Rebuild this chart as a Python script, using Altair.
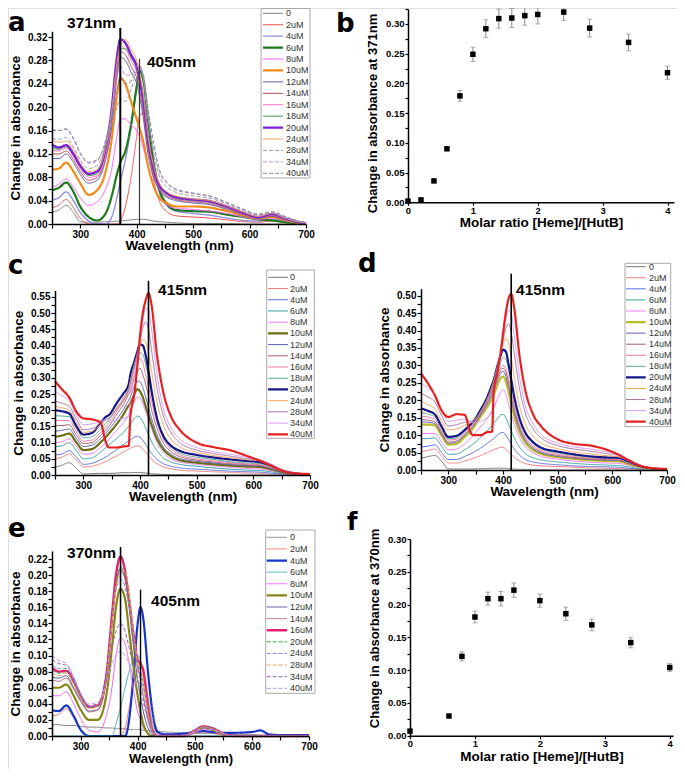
import altair as alt
import pandas as pd

W, H = 669, 761          # drawing area (page is 685x777 with 8px margin)
FONT = "Liberation Sans"
LETTER_FONT = "DejaVu Sans"

CONC15 = ["0", "2uM", "4uM", "6uM", "8uM", "10uM", "12uM", "14uM", "16uM",
          "18uM", "20uM", "24uM", "28uM", "34uM", "40uM"]
CONC_E = ["0", "2uM", "4uM", "6uM", "8uM", "10uM", "12uM", "14uM", "16uM",
          "20uM", "24uM", "28uM", "34uM", "40uM"]

# ---------------- panel a (wavelength grid + series) ----------------
WL_A = [250, 262, 275, 288, 300, 315, 330, 345, 355, 365, 371, 380, 390, 400, 405,
        412, 420, 430, 440, 455, 470, 500, 530, 560, 590, 615, 640, 665, 700]
a_0 = [0.020, 0.024, 0.032, 0.020, 0.004, 0.003, 0.003, 0.004, 0.004, 0.005, 0.005, 0.006, 0.007, 0.008, 0.008,
       0.008, 0.007, 0.005, 0.004, 0.003, 0.002, 0.001, 0.001, 0.001, 0.000, 0.000, 0.000, 0.000, 0.000]
a_2 = [0.028, 0.032, 0.042, 0.028, 0.010, 0.000, 0.000, 0.000, 0.000, 0.000, 0.005, 0.030, 0.080, 0.150, 0.185,
       0.190, 0.140, 0.075, 0.040, 0.020, 0.014, 0.012, 0.010, 0.007, 0.004, 0.003, 0.005, 0.002, 0.000]
a_4 = [0.041, 0.045, 0.055, 0.040, 0.020, 0.005, 0.000, 0.000, 0.010, 0.045, 0.072, 0.110, 0.165, 0.235, 0.270,
       0.250, 0.180, 0.100, 0.055, 0.030, 0.022, 0.018, 0.015, 0.010, 0.006, 0.005, 0.008, 0.004, 0.000]
a_6 = [0.058, 0.062, 0.071, 0.055, 0.030, 0.012, 0.006, 0.018, 0.045, 0.085, 0.105, 0.125, 0.170, 0.235, 0.262,
       0.245, 0.180, 0.105, 0.060, 0.033, 0.024, 0.022, 0.021, 0.016, 0.012, 0.008, 0.006, 0.003, 0.000]
a_8 = [0.063, 0.068, 0.077, 0.063, 0.045, 0.032, 0.038, 0.060, 0.090, 0.150, 0.180, 0.180, 0.170, 0.160, 0.150,
       0.130, 0.100, 0.065, 0.045, 0.032, 0.027, 0.025, 0.022, 0.018, 0.012, 0.008, 0.010, 0.005, 0.000]
a_10 = [0.093, 0.095, 0.105, 0.090, 0.070, 0.050, 0.058, 0.090, 0.140, 0.220, 0.250, 0.240, 0.210, 0.180, 0.165,
        0.140, 0.100, 0.065, 0.045, 0.035, 0.030, 0.030, 0.028, 0.022, 0.015, 0.010, 0.012, 0.006, 0.000]
a_12 = [0.112, 0.112, 0.120, 0.105, 0.085, 0.070, 0.075, 0.110, 0.160, 0.250, 0.285, 0.280, 0.260, 0.240, 0.220,
        0.180, 0.120, 0.080, 0.058, 0.045, 0.040, 0.036, 0.033, 0.025, 0.016, 0.010, 0.013, 0.006, 0.000]
a_14 = [0.120, 0.120, 0.125, 0.110, 0.090, 0.075, 0.080, 0.115, 0.170, 0.260, 0.295, 0.290, 0.270, 0.250, 0.230,
        0.190, 0.130, 0.085, 0.060, 0.047, 0.042, 0.038, 0.035, 0.026, 0.017, 0.011, 0.014, 0.007, 0.000]
a_16 = [0.126, 0.125, 0.130, 0.115, 0.095, 0.080, 0.083, 0.120, 0.175, 0.270, 0.305, 0.300, 0.280, 0.260, 0.240,
        0.200, 0.135, 0.088, 0.062, 0.048, 0.043, 0.039, 0.036, 0.027, 0.017, 0.011, 0.015, 0.007, 0.000]
a_18 = [0.130, 0.128, 0.132, 0.118, 0.098, 0.083, 0.086, 0.125, 0.180, 0.275, 0.300, 0.300, 0.285, 0.265, 0.245,
        0.205, 0.140, 0.090, 0.064, 0.050, 0.044, 0.040, 0.037, 0.028, 0.018, 0.012, 0.016, 0.008, 0.000]
a_20 = [0.136, 0.131, 0.135, 0.120, 0.100, 0.086, 0.090, 0.130, 0.190, 0.285, 0.316, 0.310, 0.290, 0.270, 0.250,
        0.210, 0.145, 0.095, 0.067, 0.052, 0.046, 0.042, 0.039, 0.030, 0.019, 0.012, 0.017, 0.009, 0.001]
a_24 = [0.143, 0.140, 0.142, 0.127, 0.105, 0.090, 0.093, 0.130, 0.185, 0.275, 0.305, 0.316, 0.300, 0.280, 0.260,
        0.220, 0.150, 0.100, 0.070, 0.054, 0.048, 0.043, 0.040, 0.031, 0.020, 0.013, 0.018, 0.009, 0.001]
a_28 = [0.146, 0.145, 0.148, 0.132, 0.110, 0.095, 0.100, 0.135, 0.170, 0.200, 0.215, 0.210, 0.230, 0.260, 0.265,
        0.245, 0.180, 0.120, 0.082, 0.062, 0.054, 0.048, 0.044, 0.034, 0.022, 0.015, 0.019, 0.010, 0.001]
a_34 = [0.163, 0.160, 0.162, 0.145, 0.120, 0.104, 0.108, 0.145, 0.190, 0.250, 0.270, 0.255, 0.255, 0.270, 0.272,
        0.250, 0.190, 0.130, 0.090, 0.068, 0.058, 0.052, 0.047, 0.036, 0.024, 0.016, 0.020, 0.011, 0.001]
a_40 = [0.160, 0.160, 0.163, 0.147, 0.122, 0.106, 0.110, 0.140, 0.180, 0.230, 0.250, 0.240, 0.245, 0.262, 0.265,
        0.255, 0.200, 0.140, 0.095, 0.070, 0.060, 0.053, 0.048, 0.037, 0.025, 0.017, 0.021, 0.012, 0.001]
A_SERIES = [a_0, a_2, a_4, a_6, a_8, a_10, a_12, a_14, a_16, a_18, a_20, a_24, a_28, a_34, a_40]
A_COLORS = ["#808080", "#f05050", "#9090e0", "#1b7a1b", "#ff5cff", "#f08a1a", "#5b5ba8", "#b04858",
            "#ff70c8", "#3c9c3c", "#7b1fd8", "#f5a455", "#a0a0a0", "#b48ee8", "#8c8c8c"]
A_WIDTHS = [1, 1, 1.4, 2.2, 1, 2.2, 1, 1, 1, 1, 2.4, 1, 1, 1, 1]
A_DASHED = [0] * 12 + [1, 1, 1]

# ---------------- panels c and d (shared wavelength grid) ----------------
WL_CD = [250, 262, 275, 288, 300, 315, 330, 340, 345, 360, 370, 380, 383, 390, 395, 400, 405,
         410, 415, 420, 430, 440, 455, 470, 500, 530, 560, 590, 610, 630, 650, 670, 700]
c_0 = [0.024, 0.030, 0.038, 0.020, 0.003, 0.004, 0.005, 0.005, 0.005, 0.006, 0.007, 0.007, 0.007, 0.008, 0.008, 0.008, 0.007,
       0.006, 0.005, 0.004, 0.003, 0.002, 0.001, 0.001, 0, 0, 0, 0, 0, 0, 0, 0, 0]
c_2 = [0.050, 0.055, 0.065, 0.045, 0.025, 0.027, 0.035, 0.042, 0.047, 0.060, 0.070, 0.080, 0.083, 0.088, 0.090, 0.088, 0.080,
       0.070, 0.060, 0.050, 0.035, 0.026, 0.019, 0.015, 0.012, 0.010, 0.008, 0.006, 0.005, 0.003, 0.002, 0.001, 0.000]
c_4 = [0.062, 0.065, 0.075, 0.055, 0.033, 0.036, 0.047, 0.056, 0.062, 0.080, 0.093, 0.105, 0.108, 0.117, 0.120, 0.117, 0.107,
       0.094, 0.080, 0.068, 0.048, 0.036, 0.027, 0.022, 0.018, 0.015, 0.012, 0.010, 0.009, 0.006, 0.003, 0.002, 0.000]
c_6 = [0.088, 0.090, 0.100, 0.075, 0.050, 0.053, 0.070, 0.085, 0.092, 0.115, 0.130, 0.150, 0.155, 0.175, 0.182, 0.178, 0.165,
       0.145, 0.125, 0.105, 0.075, 0.055, 0.040, 0.033, 0.027, 0.022, 0.018, 0.015, 0.014, 0.010, 0.005, 0.002, 0.000]
c_8 = [0.100, 0.103, 0.112, 0.088, 0.064, 0.066, 0.085, 0.100, 0.110, 0.140, 0.160, 0.185, 0.192, 0.225, 0.240, 0.238, 0.220,
       0.195, 0.170, 0.145, 0.100, 0.072, 0.050, 0.040, 0.033, 0.028, 0.024, 0.020, 0.019, 0.014, 0.007, 0.003, 0.001]
c_10 = [0.118, 0.122, 0.128, 0.100, 0.077, 0.080, 0.100, 0.118, 0.128, 0.160, 0.185, 0.215, 0.222, 0.250, 0.265, 0.258, 0.240,
        0.212, 0.185, 0.158, 0.112, 0.082, 0.058, 0.046, 0.038, 0.033, 0.029, 0.026, 0.025, 0.018, 0.009, 0.004, 0.001]
c_12 = [0.135, 0.138, 0.142, 0.112, 0.088, 0.092, 0.112, 0.130, 0.140, 0.175, 0.200, 0.232, 0.242, 0.275, 0.290, 0.288, 0.270,
        0.240, 0.210, 0.178, 0.125, 0.090, 0.064, 0.051, 0.042, 0.037, 0.032, 0.029, 0.028, 0.020, 0.010, 0.004, 0.001]
c_14 = [0.152, 0.153, 0.155, 0.122, 0.097, 0.100, 0.122, 0.140, 0.150, 0.190, 0.215, 0.250, 0.260, 0.300, 0.320, 0.330, 0.310,
        0.280, 0.245, 0.205, 0.145, 0.103, 0.072, 0.057, 0.046, 0.040, 0.035, 0.032, 0.030, 0.022, 0.011, 0.005, 0.001]
c_16 = [0.168, 0.168, 0.168, 0.133, 0.105, 0.108, 0.130, 0.150, 0.160, 0.200, 0.225, 0.260, 0.272, 0.315, 0.340, 0.360, 0.345,
        0.310, 0.275, 0.232, 0.163, 0.116, 0.080, 0.063, 0.050, 0.044, 0.038, 0.034, 0.032, 0.024, 0.012, 0.005, 0.002]
c_18 = [0.183, 0.182, 0.180, 0.143, 0.115, 0.118, 0.140, 0.160, 0.170, 0.210, 0.235, 0.270, 0.285, 0.330, 0.355, 0.378, 0.372,
        0.340, 0.300, 0.255, 0.180, 0.128, 0.088, 0.068, 0.055, 0.048, 0.041, 0.037, 0.035, 0.026, 0.013, 0.006, 0.002]
c_20 = [0.200, 0.197, 0.190, 0.150, 0.125, 0.130, 0.160, 0.180, 0.185, 0.225, 0.250, 0.280, 0.310, 0.350, 0.380, 0.403, 0.400,
        0.370, 0.320, 0.265, 0.175, 0.125, 0.090, 0.075, 0.062, 0.054, 0.048, 0.043, 0.040, 0.030, 0.015, 0.006, 0.002]
c_24 = [0.212, 0.208, 0.200, 0.162, 0.132, 0.135, 0.155, 0.170, 0.175, 0.210, 0.235, 0.270, 0.290, 0.340, 0.370, 0.400, 0.418,
        0.410, 0.375, 0.325, 0.225, 0.160, 0.110, 0.088, 0.070, 0.060, 0.053, 0.047, 0.044, 0.032, 0.016, 0.007, 0.002]
c_28 = [0.228, 0.222, 0.212, 0.172, 0.140, 0.143, 0.160, 0.172, 0.175, 0.205, 0.230, 0.265, 0.290, 0.340, 0.375, 0.410, 0.455,
        0.472, 0.450, 0.390, 0.270, 0.190, 0.130, 0.100, 0.077, 0.066, 0.058, 0.050, 0.046, 0.034, 0.017, 0.007, 0.002]
c_34 = [0.258, 0.245, 0.230, 0.185, 0.155, 0.158, 0.165, 0.172, 0.165, 0.170, 0.175, 0.180, 0.245, 0.300, 0.360, 0.420, 0.480,
        0.515, 0.510, 0.455, 0.310, 0.215, 0.145, 0.112, 0.085, 0.072, 0.064, 0.054, 0.048, 0.035, 0.017, 0.007, 0.002]
c_40 = [0.290, 0.265, 0.240, 0.195, 0.175, 0.172, 0.163, 0.100, 0.085, 0.085, 0.088, 0.090, 0.180, 0.250, 0.330, 0.430, 0.500,
        0.540, 0.562, 0.530, 0.370, 0.265, 0.180, 0.140, 0.100, 0.086, 0.076, 0.058, 0.045, 0.030, 0.014, 0.006, 0.003]
C_SERIES = [c_0, c_2, c_4, c_6, c_8, c_10, c_12, c_14, c_16, c_18, c_20, c_24, c_28, c_34, c_40]
C_COLORS = ["#777777", "#f08080", "#5a6ee0", "#3aa3a3", "#f47cf4", "#6e6e12", "#5c62b4", "#a85c6c",
            "#f07aa8", "#5ea890", "#16168a", "#f2a65a", "#a872a8", "#d69af2", "#e52222"]
C_WIDTHS = [1, 1, 1, 1, 1, 2.2, 1, 1, 1, 1, 2.2, 1, 1, 1, 2.2]

d_0 = [0.034, 0.038, 0.042, 0.025, 0.003, 0.003, 0.003, 0.003, 0.003, 0.004, 0.004, 0.005, 0.005, 0.005, 0.005, 0.005, 0.005,
       0.004, 0.004, 0.003, 0.002, 0.002, 0.001, 0.001, 0, 0, 0, 0, 0, 0, 0, 0, 0]
d_2 = [0.053, 0.056, 0.060, 0.040, 0.020, 0.020, 0.026, 0.030, 0.033, 0.042, 0.049, 0.056, 0.058, 0.062, 0.065, 0.065, 0.060,
       0.052, 0.045, 0.037, 0.026, 0.019, 0.014, 0.012, 0.010, 0.008, 0.006, 0.005, 0.004, 0.003, 0.002, 0.001, 0.000]
d_4 = [0.066, 0.068, 0.072, 0.050, 0.030, 0.030, 0.039, 0.046, 0.050, 0.064, 0.075, 0.087, 0.090, 0.100, 0.106, 0.108, 0.100,
       0.088, 0.075, 0.062, 0.043, 0.031, 0.023, 0.019, 0.015, 0.012, 0.010, 0.009, 0.008, 0.005, 0.003, 0.001, 0.000]
d_6 = [0.090, 0.090, 0.092, 0.068, 0.045, 0.046, 0.058, 0.068, 0.074, 0.095, 0.110, 0.128, 0.133, 0.148, 0.157, 0.160, 0.150,
       0.132, 0.113, 0.094, 0.066, 0.048, 0.035, 0.029, 0.023, 0.019, 0.016, 0.014, 0.013, 0.009, 0.004, 0.002, 0.000]
d_8 = [0.105, 0.105, 0.105, 0.080, 0.058, 0.060, 0.076, 0.090, 0.098, 0.126, 0.145, 0.170, 0.178, 0.205, 0.222, 0.230, 0.218,
       0.190, 0.162, 0.135, 0.094, 0.068, 0.049, 0.039, 0.031, 0.026, 0.022, 0.020, 0.019, 0.013, 0.006, 0.003, 0.001]
d_10 = [0.130, 0.130, 0.128, 0.098, 0.073, 0.075, 0.095, 0.110, 0.120, 0.155, 0.178, 0.205, 0.215, 0.245, 0.262, 0.268, 0.255,
        0.225, 0.190, 0.158, 0.110, 0.080, 0.057, 0.046, 0.037, 0.032, 0.028, 0.026, 0.025, 0.017, 0.008, 0.003, 0.001]
d_12 = [0.138, 0.137, 0.133, 0.103, 0.077, 0.080, 0.100, 0.116, 0.125, 0.160, 0.185, 0.215, 0.225, 0.258, 0.275, 0.283, 0.270,
        0.240, 0.205, 0.170, 0.118, 0.086, 0.061, 0.049, 0.039, 0.034, 0.030, 0.028, 0.027, 0.019, 0.009, 0.004, 0.001]
d_14 = [0.145, 0.143, 0.138, 0.107, 0.080, 0.083, 0.103, 0.120, 0.128, 0.163, 0.190, 0.222, 0.232, 0.265, 0.283, 0.292, 0.282,
        0.252, 0.215, 0.180, 0.125, 0.091, 0.065, 0.052, 0.042, 0.036, 0.032, 0.030, 0.029, 0.020, 0.010, 0.004, 0.001]
d_16 = [0.155, 0.152, 0.146, 0.114, 0.086, 0.088, 0.108, 0.124, 0.132, 0.167, 0.195, 0.228, 0.238, 0.272, 0.290, 0.300, 0.292,
        0.265, 0.228, 0.190, 0.133, 0.097, 0.070, 0.056, 0.045, 0.039, 0.034, 0.032, 0.031, 0.021, 0.010, 0.004, 0.001]
d_18 = [0.165, 0.160, 0.153, 0.120, 0.090, 0.092, 0.112, 0.128, 0.136, 0.172, 0.200, 0.235, 0.248, 0.285, 0.305, 0.322, 0.318,
        0.290, 0.250, 0.210, 0.146, 0.106, 0.076, 0.061, 0.049, 0.042, 0.037, 0.034, 0.033, 0.023, 0.011, 0.005, 0.001]
d_20 = [0.177, 0.170, 0.160, 0.124, 0.095, 0.098, 0.115, 0.130, 0.138, 0.175, 0.205, 0.245, 0.258, 0.300, 0.325, 0.345, 0.340,
        0.305, 0.260, 0.215, 0.150, 0.110, 0.080, 0.064, 0.053, 0.045, 0.039, 0.036, 0.035, 0.025, 0.012, 0.005, 0.002]
d_24 = [0.196, 0.188, 0.176, 0.140, 0.115, 0.118, 0.128, 0.135, 0.140, 0.170, 0.200, 0.240, 0.255, 0.300, 0.330, 0.360, 0.378,
        0.365, 0.325, 0.270, 0.185, 0.135, 0.097, 0.077, 0.061, 0.052, 0.046, 0.041, 0.038, 0.027, 0.013, 0.006, 0.002]
d_28 = [0.220, 0.210, 0.196, 0.155, 0.126, 0.130, 0.137, 0.140, 0.140, 0.165, 0.190, 0.225, 0.240, 0.290, 0.330, 0.370, 0.405,
        0.420, 0.395, 0.340, 0.235, 0.168, 0.118, 0.092, 0.070, 0.060, 0.054, 0.047, 0.042, 0.029, 0.014, 0.006, 0.002]
d_34 = [0.250, 0.235, 0.218, 0.172, 0.140, 0.143, 0.145, 0.140, 0.135, 0.140, 0.150, 0.165, 0.220, 0.280, 0.330, 0.380, 0.430,
        0.458, 0.450, 0.390, 0.270, 0.190, 0.132, 0.102, 0.077, 0.066, 0.060, 0.052, 0.045, 0.031, 0.015, 0.006, 0.002]
d_40 = [0.277, 0.250, 0.215, 0.170, 0.152, 0.160, 0.158, 0.110, 0.100, 0.100, 0.108, 0.110, 0.225, 0.280, 0.330, 0.390, 0.450,
        0.490, 0.505, 0.470, 0.330, 0.235, 0.160, 0.125, 0.088, 0.075, 0.070, 0.058, 0.045, 0.028, 0.013, 0.006, 0.003]
D_SERIES = [d_0, d_2, d_4, d_6, d_8, d_10, d_12, d_14, d_16, d_18, d_20, d_24, d_28, d_34, d_40]
D_COLORS = ["#777777", "#f08080", "#5a6ee0", "#3aa3a3", "#f47cf4", "#bcbc28", "#5c62b4", "#a85c6c",
            "#f07aa8", "#5ea890", "#16168a", "#f2a65a", "#a872a8", "#d69af2", "#e52222"]

# ---------------- panel e ----------------
WL_E = [250, 262, 275, 288, 300, 315, 330, 345, 355, 362, 370, 378, 385, 392, 400, 405,
        410, 418, 425, 435, 450, 480, 500, 515, 530, 550, 570, 600, 615, 630, 660, 700]
e_0 = [0.014, 0.014, 0.013, 0.013, 0.012, 0.011, 0.011, 0.010, 0.010, 0.009, 0.009, 0.009, 0.008, 0.008, 0.008, 0.008,
       0.007, 0.007, 0.006, 0.006, 0.005, 0.004, 0.003, 0.003, 0.003, 0.002, 0.002, 0.002, 0.001, 0.001, 0.001, 0.001]
e_2 = [0.025, 0.027, 0.034, 0.022, 0.008, 0.000, 0.000, 0.000, 0.000, 0.000, 0.000, 0.010, 0.035, 0.060, 0.082, 0.090,
       0.085, 0.050, 0.020, 0.003, 0.000, 0.000, 0.003, 0.005, 0.004, 0.001, 0.000, 0.000, 0.000, 0.000, 0.000, 0.000]
e_4 = [0.032, 0.031, 0.038, 0.025, 0.008, 0.000, 0.000, 0.000, 0.000, 0.000, 0.000, 0.000, 0.020, 0.070, 0.140, 0.160,
       0.145, 0.080, 0.035, 0.005, 0.002, 0.003, 0.005, 0.006, 0.005, 0.004, 0.004, 0.005, 0.007, 0.002, 0.001, 0.001]
e_6 = [0.000, 0.000, 0.000, 0.000, 0.000, 0.000, 0.000, 0.000, 0.000, 0.015, 0.035, 0.060, 0.080, 0.095, 0.100, 0.095,
       0.080, 0.045, 0.015, 0.000, 0.000, 0.000, 0.000, 0.000, 0.000, 0.000, 0.000, 0.000, 0.000, 0.000, 0.000, 0.000]
e_8 = [0.050, 0.050, 0.055, 0.040, 0.022, 0.007, 0.005, 0.025, 0.060, 0.100, 0.122, 0.115, 0.090, 0.060, 0.030, 0.020,
       0.010, 0.003, 0.000, 0.000, 0.000, 0.000, 0.004, 0.008, 0.007, 0.001, 0.000, 0.000, 0.000, 0.000, 0.000, 0.000]
e_10 = [0.060, 0.060, 0.064, 0.050, 0.033, 0.020, 0.020, 0.050, 0.110, 0.160, 0.183, 0.170, 0.130, 0.090, 0.050, 0.030,
        0.015, 0.003, 0.000, 0.000, 0.000, 0.000, 0.006, 0.010, 0.008, 0.002, 0.000, 0.000, 0.000, 0.000, 0.000, 0.000]
e_12 = [0.073, 0.072, 0.075, 0.060, 0.045, 0.031, 0.033, 0.070, 0.140, 0.190, 0.208, 0.195, 0.160, 0.115, 0.070, 0.048,
        0.030, 0.010, 0.002, 0.000, 0.000, 0.000, 0.006, 0.011, 0.009, 0.003, 0.000, 0.000, 0.000, 0.000, 0.000, 0.000]
e_14 = [0.070, 0.068, 0.072, 0.058, 0.043, 0.030, 0.032, 0.068, 0.135, 0.185, 0.205, 0.195, 0.165, 0.125, 0.085, 0.070,
        0.050, 0.020, 0.005, 0.000, 0.000, 0.000, 0.006, 0.011, 0.009, 0.003, 0.000, 0.000, 0.000, 0.000, 0.000, 0.000]
e_16 = [0.085, 0.080, 0.081, 0.068, 0.050, 0.036, 0.038, 0.075, 0.150, 0.200, 0.223, 0.205, 0.170, 0.130, 0.095, 0.090,
        0.080, 0.035, 0.008, 0.000, 0.000, 0.000, 0.007, 0.012, 0.010, 0.003, 0.000, 0.000, 0.000, 0.000, 0.000, 0.000]
e_20 = [0.082, 0.078, 0.080, 0.066, 0.048, 0.035, 0.037, 0.073, 0.145, 0.190, 0.210, 0.200, 0.170, 0.130, 0.090, 0.080,
        0.065, 0.030, 0.007, 0.000, 0.000, 0.000, 0.007, 0.012, 0.010, 0.003, 0.000, 0.000, 0.000, 0.000, 0.000, 0.000]
e_24 = [0.088, 0.084, 0.084, 0.070, 0.050, 0.036, 0.038, 0.072, 0.140, 0.180, 0.195, 0.185, 0.160, 0.125, 0.088, 0.075,
        0.060, 0.028, 0.006, 0.000, 0.000, 0.000, 0.007, 0.011, 0.009, 0.003, 0.000, 0.000, 0.000, 0.000, 0.000, 0.000]
e_28 = [0.078, 0.075, 0.078, 0.064, 0.047, 0.034, 0.036, 0.070, 0.140, 0.185, 0.200, 0.205, 0.175, 0.135, 0.092, 0.082,
        0.068, 0.030, 0.007, 0.000, 0.000, 0.000, 0.006, 0.011, 0.009, 0.003, 0.000, 0.000, 0.000, 0.000, 0.000, 0.000]
e_34 = [0.095, 0.090, 0.088, 0.072, 0.052, 0.038, 0.040, 0.070, 0.110, 0.130, 0.140, 0.130, 0.110, 0.090, 0.070, 0.060,
        0.045, 0.020, 0.005, 0.000, 0.000, 0.000, 0.005, 0.010, 0.008, 0.002, 0.000, 0.000, 0.000, 0.000, 0.000, 0.000]
e_40 = [0.100, 0.094, 0.090, 0.074, 0.054, 0.040, 0.042, 0.065, 0.090, 0.100, 0.105, 0.100, 0.090, 0.075, 0.060, 0.052,
        0.040, 0.018, 0.004, 0.000, 0.000, 0.000, 0.005, 0.009, 0.008, 0.002, 0.000, 0.000, 0.000, 0.000, 0.000, 0.000]
E_SERIES = [e_0, e_2, e_4, e_6, e_8, e_10, e_12, e_14, e_16, e_20, e_24, e_28, e_34, e_40]
E_COLORS = ["#808080", "#f07a6a", "#1535c8", "#48b4b4", "#f062f0", "#868614", "#545494", "#a86878",
            "#e8206e", "#44a044", "#8888e0", "#f2a455", "#9a62a8", "#b898e8"]
E_WIDTHS = [1, 1, 2.2, 1, 1, 2.2, 1, 1, 2.4, 1, 1, 1, 1, 1]
E_DASHED = [0] * 9 + [1] * 5

# ---------------- panels b and f (titration points) ----------------
B_RATIO = [0, 0.2, 0.4, 0.6, 0.8, 1.0, 1.2, 1.4, 1.6, 1.8, 2.0, 2.4, 2.8, 3.4, 4.0]
B_VALUE = [0.002, 0.004, 0.036, 0.090, 0.179, 0.249, 0.292, 0.309, 0.310, 0.314, 0.316, 0.320, 0.293, 0.269, 0.218]
B_ERR = [0.000, 0.002, 0.002, 0.003, 0.009, 0.012, 0.015, 0.016, 0.016, 0.016, 0.016, 0.014, 0.015, 0.014, 0.011]

F_RATIO = [0, 0.6, 0.8, 1.0, 1.2, 1.4, 1.6, 2.0, 2.4, 2.8, 3.4, 4.0]
F_VALUE = [0.007, 0.030, 0.121, 0.181, 0.209, 0.209, 0.222, 0.206, 0.186, 0.169, 0.142, 0.104]
F_ERR = [0.000, 0.000, 0.007, 0.009, 0.010, 0.011, 0.011, 0.010, 0.010, 0.009, 0.008, 0.006]

DASH_SCALE = alt.Scale(domain=["s", "d"], range=[[1, 0], [4, 2]])


def axis(**kw):
    base = dict(labelFont=FONT, labelFontWeight="bold", labelFontSize=10, labelColor="black",
                titleFont=FONT, titleFontWeight="bold", titleFontSize=13.5, titleColor="black",
                domainColor="black", domainWidth=1.5, tickColor="black", tickWidth=1.2, tickSize=4,
                labelPadding=1, grid=False, labelFlush=False, labelOverlap=False, zindex=1)
    base.update(kw)
    return alt.Axis(**base)


def one_row():
    return pd.DataFrame({"k": [0]})


def letter_layer(ch, x, y, size=26):
    return alt.Chart(one_row()).mark_text(align="left", baseline="alphabetic", font=LETTER_FONT,
                                          fontWeight="bold", fontSize=size, color="black").encode(
        x=alt.value(x), y=alt.value(y), text=alt.value(ch))


def spectra_layers(wl, series, labels, colors, widths, dashed, xr, yr, ydom, yvals, ytest,
                   markers, notes, box, rows, letter, title_y=14.5, title_size=13.5):
    xs = alt.Scale(domain=[250, 700], range=xr, nice=False, zero=False)
    ys = alt.Scale(domain=ydom, range=yr, nice=False, zero=False)
    recs = []
    for i, (lab, vals) in enumerate(zip(labels, series)):
        for w, v in zip(wl, vals):
            recs.append({"wl": w, "v": v, "s": f"{i:02d}", "col": colors[i],
                         "w": widths[i], "dash": "d" if dashed[i] else "s"})
    df = pd.DataFrame(recs)
    xa = axis(orient="bottom", offset=yr[0] - H, values=list(range(250, 701, 50)),
              labelExpr="datum.value % 100 === 0 ? datum.label : ''", format="d",
              title="Wavelength (nm)", titleY=title_y, titleBaseline="top", titleFontSize=title_size)
    ya = axis(orient="left", offset=-xr[0], values=yvals, labelExpr=ytest, format=".2f",
              title="Change in absorbance", titleX=-30)
    lines = alt.Chart(df).mark_line(interpolate="monotone").encode(
        x=alt.X("wl:Q", scale=xs, axis=xa),
        y=alt.Y("v:Q", scale=ys, axis=ya),
        detail="s:N",
        color=alt.Color("col:N", scale=None),
        strokeWidth=alt.StrokeWidth("w:Q", scale=None),
        strokeDash=alt.StrokeDash("dash:N", scale=DASH_SCALE, legend=None),
    )
    mk = pd.DataFrame(markers, columns=["wl", "top", "col", "w"])
    mk["bot"] = 0.0
    mrules = alt.Chart(mk).mark_rule().encode(
        x=alt.X("wl:Q", scale=xs, axis=None),
        y=alt.Y("bot:Q", scale=ys, axis=None), y2="top:Q",
        color=alt.Color("col:N", scale=None),
        strokeWidth=alt.StrokeWidth("w:Q", scale=None),
    )
    nt = pd.DataFrame(notes, columns=["wl", "v", "txt"])
    ntext = alt.Chart(nt).mark_text(align="left", baseline="middle", font=FONT,
                                    fontWeight="bold", fontSize=15.5, color="black").encode(
        x=alt.X("wl:Q", scale=xs, axis=None),
        y=alt.Y("v:Q", scale=ys, axis=None),
        text="txt:N",
    )
    bx0, bx1, by0, by1 = box
    lx0, lx1, tx, ry0, ry1 = rows
    legbox = alt.Chart(one_row()).mark_rect(fill="white", stroke="#a8a8a8", strokeWidth=1).encode(
        x=alt.value(bx0), x2=alt.value(bx1), y=alt.value(by0), y2=alt.value(by1))
    ldf = pd.DataFrame({"label": labels, "col": colors, "w": widths,
                        "dash": ["d" if d else "s" for d in dashed]})
    lys = alt.Scale(type="point", domain=labels, range=[ry0, ry1], padding=0)
    legrules = alt.Chart(ldf).mark_rule().encode(
        x=alt.value(lx0), x2=alt.value(lx1),
        y=alt.Y("label:N", scale=lys, axis=None),
        color=alt.Color("col:N", scale=None),
        strokeWidth=alt.StrokeWidth("w:Q", scale=None),
        strokeDash=alt.StrokeDash("dash:N", scale=DASH_SCALE, legend=None),
    )
    legtext = alt.Chart(ldf).mark_text(align="left", baseline="middle", font=FONT, fontSize=9,
                                       color="#333333").encode(
        x=alt.value(tx), y=alt.Y("label:N", scale=lys, axis=None), text="label:N")
    return [lines, mrules, ntext, legbox, legrules, legtext, letter_layer(*letter)]


def ratio_layers(ratio, value, err, xdom, xr, ydom, yr, ytitle, letter, title_y, ytitle_y):
    xs = alt.Scale(domain=xdom, range=xr, nice=False, zero=False)
    ys = alt.Scale(domain=ydom, range=yr, nice=False, zero=False)
    df = pd.DataFrame({"r": ratio, "v": value, "e": err})
    df["lo"] = df["v"] - df["e"]
    df["hi"] = df["v"] + df["e"]
    caps = pd.concat([pd.DataFrame({"r": df["r"], "c": df["lo"]}),
                      pd.DataFrame({"r": df["r"], "c": df["hi"]})])
    caps = caps[caps["r"].isin(df.loc[df["e"] > 0.001, "r"])]
    xa = axis(orient="bottom", offset=yr[0] - H, values=[i * 0.5 for i in range(9)],
              labelExpr="datum.value % 1 === 0 ? datum.label : ''", format="d",
              labelFontSize=9.5, tickSize=3, labelPadding=0,
              title="Molar ratio [Heme]/[HutB]", titleY=title_y, titleBaseline="top")
    ya = axis(orient="left", offset=-xr[0], values=[i * 0.025 for i in range(int(round(ydom[1] / 0.025)) + 1)],
              labelExpr="round(datum.value * 1000) % 50 === 0 ? datum.label : ''", format=".2f",
              labelFontSize=9.5, tickSize=3, titleFontSize=13,
              title=ytitle, titleX=-29, titleY=ytitle_y)
    bars = alt.Chart(df).mark_rule(color="#8a8a8a", strokeWidth=1).encode(
        x=alt.X("r:Q", scale=xs, axis=None),
        y=alt.Y("lo:Q", scale=ys, axis=None), y2="hi:Q")
    capm = alt.Chart(caps).mark_tick(orient="horizontal", color="#8a8a8a", thickness=1, size=5).encode(
        x=alt.X("r:Q", scale=xs, axis=None),
        y=alt.Y("c:Q", scale=ys, axis=None))
    pts = alt.Chart(df).mark_square(size=30, color="black", opacity=1).encode(
        x=alt.X("r:Q", scale=xs, axis=xa),
        y=alt.Y("v:Q", scale=ys, axis=ya))
    return [bars, capm, pts, letter_layer(*letter)]


layers = []
# panel a
layers += spectra_layers(
    WL_A, A_SERIES, CONC15, A_COLORS, A_WIDTHS, A_DASHED,
    xr=[44, 298], yr=[216, 23.3], ydom=[0, 0.33],
    yvals=[round(i * 0.02, 3) for i in range(17)],
    ytest="round(datum.value * 100) % 4 === 0 ? datum.label : ''",
    markers=[(371, 0.336, "#000000", 2.0), (405, 0.283, "#3a3a3a", 1.2)],
    notes=[(276.6, 0.344, "371nm"), (418.3, 0.277, "405nm")],
    box=(253, 302, 0.5, 170), rows=(255, 275, 278, 5.3, 165.3),
    letter=("a", 0, 23))
# panel b
layers += ratio_layers(B_RATIO, B_VALUE, B_ERR, xdom=[0, 4.1], xr=[400, 666],
                       ydom=[0, 0.325], yr=[194.3, 1.1],
                       ytitle="Change in absorbance at 371nm", letter=("b", 328, 24),
                       title_y=13.5, ytitle_y=105)
# panel c
layers += spectra_layers(
    WL_CD, C_SERIES, CONC15, C_COLORS, C_WIDTHS, [0] * 15,
    xr=[47, 302], yr=[467, 282.5], ydom=[0, 0.57],
    yvals=[round(i * 0.025, 3) for i in range(23)],
    ytest="round(datum.value * 1000) % 50 === 0 ? datum.label : ''",
    markers=[(415, 0.600, "#000000", 1.6)],
    notes=[(431.8, 0.572, "415nm")],
    box=(258.7, 306.3, 262, 430.3), rows=(260, 280, 282, 269.3, 426.3),
    letter=("c", 0, 266))
# panel d
layers += spectra_layers(
    WL_CD, D_SERIES, CONC15, D_COLORS, C_WIDTHS, [0] * 15,
    xr=[413, 659], yr=[462, 280.7], ydom=[0, 0.52],
    yvals=[round(i * 0.025, 3) for i in range(21)],
    ytest="round(datum.value * 1000) % 50 === 0 ? datum.label : ''",
    markers=[(415, 0.563, "#000000", 1.6)],
    notes=[(423.8, 0.515, "415nm")],
    box=(617, 662.7, 255.3, 418.7), rows=(618, 637.7, 641, 258.7, 413.7),
    letter=("d", 350, 264))
# panel e
layers += spectra_layers(
    WL_E, E_SERIES, CONC_E, E_COLORS, E_WIDTHS, E_DASHED,
    xr=[44, 301], yr=[728, 543], ydom=[0, 0.23],
    yvals=[round(i * 0.01, 3) for i in range(23)],
    ytest="round(datum.value * 100) % 2 === 0 ? datum.label : ''",
    markers=[(370, 0.235, "#000000", 1.6), (405, 0.182, "#000000", 1.4)],
    notes=[(276.3, 0.227, "370nm"), (423.4, 0.168, "405nm")],
    box=(257.7, 307, 522, 685.3), rows=(258.7, 279, 282, 529.3, 680.3),
    letter=("e", 0, 529), title_y=16, title_size=13)
# panel f
layers += ratio_layers(F_RATIO, F_VALUE, F_ERR, xdom=[0, 4.05], xr=[402, 665],
                       ydom=[0, 0.30], yr=[727.7, 531],
                       ytitle="Change in absorbance at 370nm", letter=("f", 339, 522, 24),
                       title_y=13.5, ytitle_y=620)

chart = alt.layer(*layers).resolve_scale(
    x="independent", y="independent"
).properties(
    width=W, height=H, padding=0, autosize=alt.AutoSizeParams(type="none")
).configure_view(stroke=None).configure(background="white")

chart.save("out.html", embed_options={"renderer": "svg", "actions": False})
